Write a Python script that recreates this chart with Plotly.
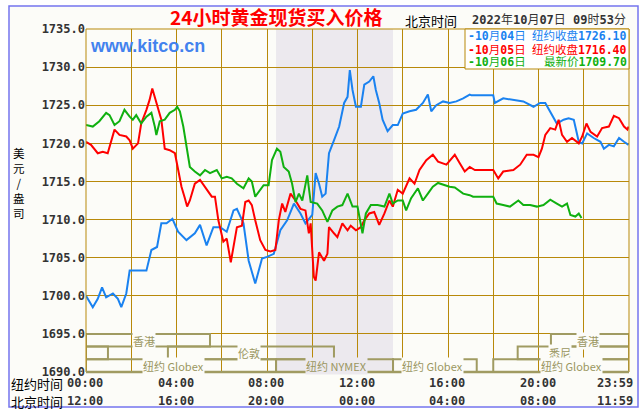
import plotly.graph_objects as go

# ---------------- data ----------------
# hours (New York time, 0-24) and prices
t_1004 = [0, 0.30, 0.52, 0.71, 0.89, 1.19, 1.41, 1.56, 1.78, 1.93, 2.22, 2.67, 2.89, 3.14, 3.33, 3.56, 3.82,
          4.07, 4.44, 4.81, 5.04, 5.33, 5.63, 5.93, 6.22, 6.52, 6.67, 6.96, 7.19, 7.48, 7.78, 8.00, 8.30,
          8.59, 8.89, 9.19, 9.48, 9.70, 10.00, 10.15, 10.30, 10.44, 10.59, 10.74, 10.96, 11.19, 11.41,
          11.56, 11.66, 11.78, 11.93, 12.15, 12.30, 12.52, 12.70, 12.81, 12.96, 13.11, 13.33, 13.56,
          13.78, 14.00, 14.30, 14.59, 14.89, 15.11, 15.26, 15.48, 15.78, 16.07, 16.37, 16.67, 16.96,
          17.04, 18.00, 18.07, 18.44, 18.89, 19.33, 19.78, 20.07, 20.30, 20.52, 20.81, 21.11, 21.33,
          21.56, 21.78, 21.93, 22.15, 22.44, 22.74, 22.89, 23.11, 23.33, 23.56, 23.78, 23.98]
p_1004 = [1700.0, 1698.5, 1699.6, 1701.1, 1699.8, 1700.3, 1699.6, 1698.5, 1700.3, 1703.3, 1703.3, 1703.3,
          1706.0, 1706.4, 1709.5, 1709.5, 1710.1, 1708.4, 1707.3, 1708.2, 1709.3, 1706.6, 1709.0, 1709.0,
          1708.4, 1711.2, 1711.4, 1709.5, 1704.6, 1701.6, 1704.9, 1705.1, 1705.5, 1708.6, 1709.9, 1712.1,
          1710.8, 1709.5, 1710.6, 1716.1, 1714.7, 1713.0, 1713.4, 1718.7, 1720.4, 1722.2, 1725.3, 1726.1,
          1729.6, 1727.0, 1724.8, 1724.8, 1727.7, 1728.1, 1728.8, 1727.0, 1725.3, 1723.1, 1721.6, 1722.4,
          1722.4, 1723.9, 1724.2, 1724.4, 1725.3, 1726.4, 1724.2, 1725.0, 1725.5, 1725.3, 1725.5, 1725.9,
          1726.4, 1726.3, 1726.3, 1725.3, 1725.9, 1725.7, 1725.5, 1724.8, 1725.3, 1725.3, 1724.2, 1722.6,
          1723.1, 1723.3, 1723.1, 1720.2, 1720.0, 1721.3, 1720.7, 1720.2, 1719.3, 1719.8, 1719.6, 1720.7,
          1720.2, 1719.8]

t_1005 = [0, 0.22, 0.52, 0.74, 0.96, 1.11, 1.26, 1.48, 1.78, 1.93, 2.07, 2.30, 2.44, 2.67, 2.81, 2.93,
          3.04, 3.19, 3.33, 3.48, 3.70, 3.93, 4.07, 4.22, 4.37, 4.47, 4.59, 4.81, 5.04, 5.26, 5.56, 5.70,
          5.85, 6.07, 6.22, 6.40, 6.52, 6.67, 6.89, 7.04, 7.19, 7.33, 7.48, 7.70, 7.93, 8.15, 8.37, 8.52,
          8.67, 8.81, 9.04, 9.26, 9.48, 9.70, 9.85, 9.93, 10.07, 10.15, 10.30, 10.52, 10.67, 10.74, 10.96,
          11.11, 11.33, 11.56, 11.70, 11.93, 12.15, 12.30, 12.52, 12.74, 12.96, 13.19, 13.41, 13.56, 13.78,
          14.00, 14.30, 14.52, 14.74, 15.04, 15.33, 15.56, 15.93, 16.30, 16.52, 16.74, 16.96, 17.19, 18.00,
          18.22, 18.44, 18.89, 19.19, 19.48, 19.78, 20.00, 20.15, 20.30, 20.52, 20.74, 20.89, 21.04, 21.26,
          21.48, 21.78, 21.93, 22.12, 22.30, 22.59, 22.81, 23.11, 23.33, 23.56, 23.78, 23.93, 23.98]
p_1005 = [1720.2, 1719.8, 1718.7, 1718.9, 1718.7, 1720.4, 1721.8, 1721.1, 1720.9, 1720.4, 1719.3, 1720.0,
          1722.6, 1724.4, 1725.7, 1727.2, 1726.1, 1724.4, 1723.1, 1719.3, 1719.1, 1718.7, 1716.5, 1714.3,
          1712.8, 1711.7, 1712.5, 1714.7, 1715.2, 1714.3, 1713.0, 1713.0, 1709.9, 1707.1, 1707.5, 1704.4,
          1706.4, 1709.0, 1709.2, 1712.3, 1712.5, 1711.9, 1709.9, 1707.3, 1706.0, 1705.8, 1706.0, 1709.9,
          1712.1, 1711.0, 1713.4, 1712.5, 1711.4, 1711.2, 1708.2, 1709.5, 1702.5, 1702.0, 1705.7, 1704.6,
          1705.5, 1709.0, 1708.2, 1707.7, 1709.5, 1708.6, 1709.2, 1708.6, 1709.0, 1709.9, 1710.8, 1711.0,
          1709.3, 1710.8, 1712.5, 1711.7, 1713.9, 1713.4, 1715.4, 1714.7, 1716.5, 1717.8, 1718.5, 1717.6,
          1717.2, 1718.5, 1717.4, 1716.3, 1716.9, 1716.5, 1716.5, 1715.4, 1716.3, 1716.5, 1717.2, 1718.5,
          1718.5, 1718.2, 1719.3, 1721.1, 1722.0, 1721.8, 1723.1, 1721.1, 1720.2, 1720.7, 1720.0, 1720.9,
          1722.6, 1721.5, 1720.9, 1722.0, 1722.2, 1723.6, 1723.3, 1722.2, 1721.8, 1722.2]

t_1006 = [0, 0.30, 0.59, 0.89, 1.04, 1.26, 1.48, 1.70, 1.93, 2.07, 2.22, 2.44, 2.67, 2.89, 3.04, 3.11,
          3.26, 3.48, 3.70, 3.93, 4.03, 4.15, 4.30, 4.44, 4.59, 4.81, 5.04, 5.26, 5.48, 5.78, 6.00, 6.22,
          6.44, 6.67, 6.96, 7.19, 7.33, 7.48, 7.70, 7.85, 8.07, 8.22, 8.44, 8.59, 8.74, 8.96, 9.11, 9.26,
          9.41, 9.56, 9.78, 9.93, 10.22, 10.44, 10.67, 10.89, 11.11, 11.33, 11.56, 11.78, 12.00, 12.15,
          12.22, 12.37, 12.59, 12.89, 13.19, 13.41, 13.56, 13.78, 14.00, 14.15, 14.37, 14.67, 14.89, 15.11,
          15.33, 15.56, 15.85, 16.07, 16.30, 16.67, 16.96, 17.11, 18.00, 18.15, 18.44, 18.74, 19.11, 19.33,
          19.63, 19.93, 20.22, 20.52, 20.81, 21.04, 21.26, 21.41, 21.63, 21.78, 21.90]
p_1006 = [1722.4, 1722.2, 1722.9, 1724.0, 1723.7, 1722.4, 1722.9, 1724.4, 1723.5, 1723.1, 1723.7, 1722.6,
          1723.5, 1724.0, 1722.2, 1721.1, 1722.9, 1723.1, 1724.0, 1724.4, 1724.8, 1724.2, 1722.2, 1719.8,
          1716.9, 1716.3, 1715.8, 1716.5, 1716.1, 1716.5, 1715.4, 1715.6, 1715.4, 1714.7, 1714.1, 1715.4,
          1715.0, 1713.0, 1713.9, 1714.5, 1714.5, 1717.8, 1719.3, 1718.9, 1716.9, 1716.3, 1714.7, 1712.3,
          1713.4, 1712.5, 1715.8, 1712.3, 1712.1, 1711.2, 1709.7, 1711.2, 1711.7, 1711.9, 1713.4, 1711.7,
          1711.7, 1709.3, 1708.2, 1710.8, 1711.9, 1711.9, 1711.7, 1713.4, 1712.1, 1712.5, 1712.5, 1711.2,
          1712.8, 1714.1, 1712.5, 1713.4, 1714.3, 1714.8, 1714.5, 1714.3, 1714.2, 1713.4, 1713.2, 1713.0,
          1713.0, 1712.1, 1711.9, 1711.7, 1712.5, 1711.9, 1711.9, 1711.7, 1711.9, 1712.6, 1712.1, 1711.7,
          1712.1, 1710.6, 1710.4, 1710.8, 1710.2]

series_dates = ["10月04日", "10月05日", "10月06日"]
series_kind = ["纽约收盘", "纽约收盘", "最新价"]
series_last = ["1726.10", "1716.40", "1709.70"]

y_ticks = [1690, 1695, 1700, 1705, 1710, 1715, 1720, 1725, 1730, 1735]
x_label_hours = [0, 4, 8, 12, 16, 20, 24]
ny_labels = ["00:00", "04:00", "08:00", "12:00", "16:00", "20:00", "23:59"]
bj_labels = ["12:00", "16:00", "20:00", "00:00", "04:00", "08:00", "11:59"]

# trading sessions (NY hours)
sess_name = ["香港", "香港", "悉尼", "悉尼", "伦敦", "纽约 Globex", "纽约 NYMEX", "纽约 Globex", "纽约 Globex"]
sess_start = [0, 20.55, 0, 19.08, 3.62, 0, 8.40, 13.57, 18.0]
sess_end = [5.48, 24, 0.97, 24, 10.96, 8.40, 13.57, 17.27, 24]
sess_row = [1, 1, 2, 2, 2, 3, 3, 3, 3]
sess_label_at = [2.56, 22.2, None, 20.95, 7.2, 3.86, 11.05, 15.3, 21.47]
nymex_band = [8.40, 13.57]

title_text = "24小时黄金现货买入价格"
stamp_text = "<b>2022</b>年<b>10</b>月<b>07</b>日 <b>09</b>时<b>53</b>分"
y_title = "美元/盎司"

# ---------------- style ----------------
W, H = 644, 413
L, R, T, B = 86, 629, 29, 372
GOLD = "#B8890A"
OLIVE = "#A09B62"
BG = "#FCFCF8"
BAND = "#ECE9EE"
COLORS = ["#1A82F0", "#FF0000", "#10B010"]
MONO = "DejaVu Sans Mono, Noto Sans CJK SC"
CJK = "Noto Sans CJK SC"


def px(x):
    return (x - L) / (R - L)


def py(y):
    return (B - y) / (B - T)


def note(text, x, y, font, xanchor="center", xref="paper", yref="paper", **kw):
    d = dict(text=text, x=x, y=y, xref=xref, yref=yref, xanchor=xanchor, yanchor="middle",
             showarrow=False, font=font)
    d.update(kw)
    return d


fig = go.Figure()
for t, p, c in zip([t_1004, t_1005, t_1006], [p_1004, p_1005, p_1006], COLORS):
    fig.add_trace(go.Scatter(x=t, y=p, mode="lines", line=dict(color=c, width=2),
                             hoverinfo="skip", showlegend=False))

shapes = []
# outer frame with background
shapes.append(dict(type="rect", xref="paper", yref="paper", x0=px(9), x1=px(638), y0=py(407), y1=py(6),
                   line=dict(color="#7474EE", width=1.5), fillcolor=BG, layer="below"))
# NYMEX band
shapes.append(dict(type="rect", xref="x", yref="paper", x0=nymex_band[0], x1=nymex_band[1], y0=0, y1=1,
                   line=dict(width=0), fillcolor=BAND, layer="below"))
# session boxes
row_h = 5 / 3
for s, e, r in zip(sess_start, sess_end, sess_row):
    lo = 1695 - r * row_h
    shapes.append(dict(type="rect", xref="x", yref="y", x0=s, x1=e, y0=lo, y1=lo + row_h,
                       line=dict(color=OLIVE, width=2), layer="above"))
# plot border
shapes.append(dict(type="rect", xref="paper", yref="paper", x0=0, x1=1, y0=0, y1=1,
                   line=dict(color=GOLD, width=1), layer="above"))
shapes.append(dict(type="line", xref="paper", yref="paper", x0=0, x1=1, y0=0, y1=0,
                   line=dict(color=OLIVE, width=2.5), layer="above"))
# legend box
shapes.append(dict(type="rect", xref="paper", yref="paper", x0=px(465), x1=1, y0=py(69), y1=1,
                   line=dict(color=GOLD, width=1), fillcolor="#FFFFFF", layer="above"))

ann = []
# title and time stamp
ann.append(note(title_text, px(276), py(17), dict(family=CJK, size=19, color="#FF0000", weight="bold")))
ann.append(note("北京时间", px(431), py(20), dict(family=CJK, size=13, color="#000000")))
ann.append(note(stamp_text, px(549), py(20), dict(family=MONO, size=12, color="#333333")))
# watermark
ann.append(note("www.kitco.cn", px(88), py(46),
                dict(family="Liberation Sans, Arial", size=18, color="#4282EE", weight="bold"),
                xanchor="left"))
# legend entries
for i, (d, k, v, c) in enumerate(zip(series_dates, series_kind, series_last, COLORS)):
    yy = [36, 49.5, 62.5][i]
    left = "<b>-" + d.replace("月", "</b>月<b>").replace("日", "</b>日")
    ann.append(note(left, px(466), py(yy), dict(family=MONO, size=11.5, color=c), xanchor="left"))
    ann.append(note(k + "<b>" + v + "</b>", px(629), py(yy), dict(family=MONO, size=11.5, color=c),
                    xanchor="right"))
# y axis title (stacked characters)
ann.append(note("<br>".join(list(y_title)), px(18.5), py(183),
                dict(family=CJK, size=11.5, color="#000000")))
# x labels
ann.append(note("纽约时间", px(37), py(383), dict(family=CJK, size=13, color="#000000")))
ann.append(note("北京时间", px(37), py(401), dict(family=CJK, size=13, color="#000000")))
for h, a, b in zip(x_label_hours, ny_labels, bj_labels):
    xa = "right" if h == 24 else "center"
    xs = 6 if h == 24 else -1
    for txt, yy in ((a, 383), (b, 401)):
        ann.append(note("<b>" + txt + "</b>", h, py(yy), dict(family=MONO, size=12, color="#333333"),
                        xanchor=xa, xref="x", xshift=xs))
# session labels
for n, lx, r in zip(sess_name, sess_label_at, sess_row):
    if lx is None:
        continue
    lo = 1695 - r * row_h
    bg = BAND if nymex_band[0] < lx < nymex_band[1] else BG
    ann.append(note(n, lx, lo + row_h / 2 - 0.05, dict(family=CJK, size=11, color="#9A9660"),
                    xref="x", yref="y", bgcolor=bg, borderpad=0))

fig.update_layout(
    width=W, height=H, autosize=False,
    margin=dict(l=L, r=W - R, t=T, b=H - B, pad=0),
    paper_bgcolor="#FFFFFF", plot_bgcolor=BG,
    shapes=shapes, annotations=ann,
    xaxis=dict(range=[0, 24], tick0=0, dtick=2, showticklabels=False, ticks="",
               showgrid=True, gridcolor=GOLD, gridwidth=1, zeroline=False, showline=False,
               fixedrange=True),
    yaxis=dict(range=[1690, 1735], tickvals=y_ticks, tickformat=".1f", ticks="",
               showgrid=True, gridcolor=GOLD, gridwidth=1, zeroline=False, showline=False,
               tickfont=dict(family="DejaVu Sans Mono", size=12, color="#333333", weight="bold"),
               fixedrange=True),
)

fig.write_html("out.html", config={"displayModeBar": False, "staticPlot": True},
               post_script="document.body.style.margin='0px';document.body.style.overflow='hidden';")
